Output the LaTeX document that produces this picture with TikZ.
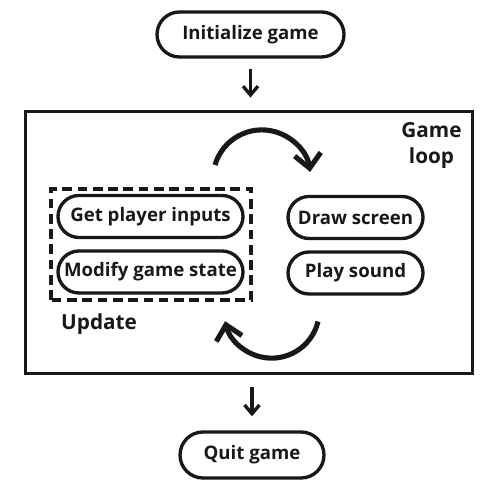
\documentclass[tikz,border=0pt]{standalone}
\usepackage{fontspec}
\setmainfont{Open Sans}
\usepackage{tikz}
\usetikzlibrary{arrows.meta}
\definecolor{ink-color}{RGB}{24, 24, 24}

\begin{document}
\begin{tikzpicture}[
  font=\fontsize{10.6}{13}\selectfont\bfseries, color=ink-color,
  pill/.style={draw, line width=1.9pt, rounded corners=0.42cm, minimum height=0.84cm, inner xsep=2pt},
  label text/.style={font=\fontsize{11.8}{14.7}\selectfont\bfseries},
  flow/.style={line width=1.9pt, -{Straight Barb[length=5pt, width=8.5pt, line width=1.9pt]}},
  cycle/.style={line width=2.9pt, -{Straight Barb[length=8pt, width=15pt, line width=2.9pt]}}
]
\useasboundingbox (0,0) rectangle (10,10);

\node[pill, minimum width=3.74cm, minimum height=0.9cm, rounded corners=0.45cm] (init) at (5.01,9.31) {Initialize game};
\node[draw, line width=2.2pt, minimum width=8.94cm, minimum height=5.24cm] (loop_box) at (4.98,5.15) {};
\node[label text, align=center] (loop_label) at (8.63,7.09) {Game\\loop};

\node[pill, minimum width=3.7cm] (get_inputs) at (3.01,5.67) {Get player inputs};
\node[pill, minimum width=3.7cm] (modify_state) at (3.01,4.56) {Modify game state};
\node[label text, anchor=west] (update_label) at (1.1,3.52) {Update};

\node[pill, minimum width=2.7cm] (draw_screen) at (7.11,5.65) {Draw screen};
\node[pill, minimum width=2.7cm] (play_sound) at (7.11,4.54) {Play sound};

\node[pill, minimum width=2.88cm, minimum height=0.92cm, rounded corners=0.46cm] (quit) at (5.04,0.9) {Quit game};

\draw[line width=2.1pt, dash pattern=on 5.5pt off 3.2pt] (1.02,4.0) rectangle (5.02,6.22);

\draw[flow, shorten <=0.2cm, shorten >=0.24cm] (init.south) -- (init.south|-loop_box.north);
\draw[flow, shorten <=0.24cm, shorten >=0.28cm] (quit.north|-loop_box.south) -- (quit.north);

% cycle arrows
\coordinate (top_start) at (4.30,6.70);
\coordinate (bottom_start) at (6.36,3.57);
\draw[cycle] (top_start) arc[start angle=163.7, end angle=8, radius=0.976];
\draw[cycle] (bottom_start) arc[start angle=-13.4, end angle=-167, radius=0.954];
\end{tikzpicture}
\end{document}
